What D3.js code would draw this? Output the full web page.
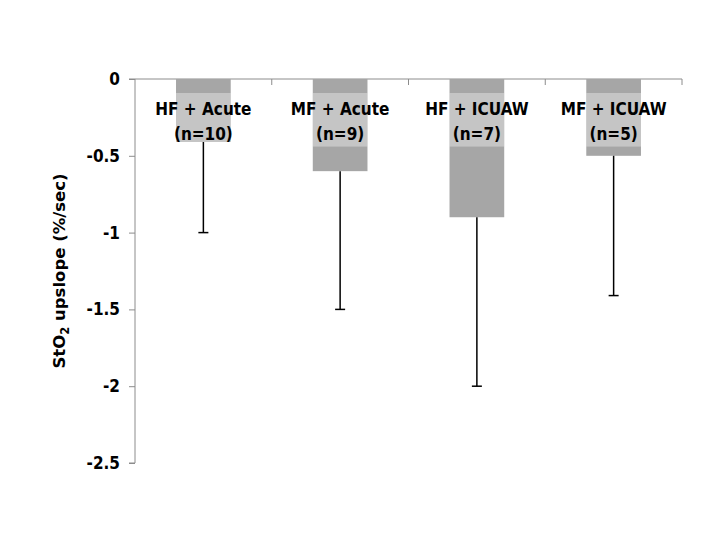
<!DOCTYPE html>
<html><head><meta charset="utf-8">
<script src="https://cdn.jsdelivr.net/npm/d3@7"></script>
<style>body{margin:0;background:#fff}</style>
</head><body>
<svg id="c" width="720" height="540"></svg>
<script>
const categories = ["HF + Acute", "MF + Acute", "HF + ICUAW", "MF + ICUAW"];
const nLabels = ["(n=10)", "(n=9)", "(n=7)", "(n=5)"];
const means = [-0.41, -0.6, -0.9, -0.5];
const errorEnds = [-1.0, -1.5, -2.0, -1.41];
const yTicks = [0, -0.5, -1, -1.5, -2, -2.5];

const svg = d3.select("#c");
const pL = 135, pR = 682, pT = 79, pB = 463;
const x = d3.scaleBand().domain(categories).range([pL, pR]).paddingInner(0.6).paddingOuter(0.3);
const xb = d3.scaleBand().domain(categories).range([pL, pR]);
const y = d3.scaleLinear().domain([0, -2.5]).range([pT, pB]);
const axisCol = "#8c8c8c";
const font = "'DejaVu Sans Condensed', 'DejaVu Sans', sans-serif";

// y axis
const ya = svg.append("g").attr("transform", `translate(${pL},0)`)
  .call(d3.axisLeft(y).tickValues(yTicks).tickSize(6).tickFormat(d => String(d)));
ya.select(".domain").attr("stroke", axisCol).attr("d", `M-6,${pT}H0V${pB}H-6`);
ya.selectAll(".tick line").attr("stroke", axisCol);
ya.selectAll(".tick text").attr("font-family", font).attr("font-size", 17).attr("font-weight", "bold")
  .attr("fill", "#000").attr("x", -15);

// x axis at top
const xa = svg.append("g").attr("transform", `translate(0,${pT})`);
xa.append("line").attr("x1", pL).attr("x2", pR).attr("y1", 0).attr("y2", 0).attr("stroke", axisCol);
xa.selectAll("line.t").data(categories).join("line").attr("class", "t")
  .attr("x1", d => xb(d) + xb.bandwidth()).attr("x2", d => xb(d) + xb.bandwidth())
  .attr("y1", 0).attr("y2", 6).attr("stroke", axisCol);

// bars
svg.selectAll("rect.bar").data(categories).join("rect").attr("class", "bar")
  .attr("x", d => x(d)).attr("width", x.bandwidth())
  .attr("y", y(0)).attr("height", (d, i) => y(means[i]) - y(0))
  .attr("fill", "#a6a6a6");

// error bars
const eg = svg.append("g").attr("stroke", "#000").attr("stroke-width", 1.5);
categories.forEach((c, i) => {
  const cx = x(c) + x.bandwidth() / 2;
  eg.append("line").attr("x1", cx).attr("x2", cx).attr("y1", y(means[i])).attr("y2", y(errorEnds[i]));
  eg.append("line").attr("x1", cx - 5).attr("x2", cx + 5).attr("y1", y(errorEnds[i])).attr("y2", y(errorEnds[i]));
});

// label boxes (semi-transparent white over bar)
categories.forEach((c, i) => {
  const cx = x(c) + x.bandwidth() / 2;
  const bw = x.bandwidth();
  const boxBottom = Math.min(y(-0.44), y(means[i]));
  svg.append("rect").attr("x", x(c)).attr("width", bw).attr("y", 93)
    .attr("height", boxBottom - 93).attr("fill", "#fff").attr("opacity", 0.35);
  const t = svg.append("text").attr("text-anchor", "middle").attr("font-family", font)
    .attr("font-weight", "bold").attr("font-size", 17).attr("fill", "#000");
  t.append("tspan").attr("x", cx).attr("y", 115).text(c);
  t.append("tspan").attr("x", cx).attr("y", 140).text(nLabels[i]);
});

// y title
const yt = svg.append("text").attr("transform", `translate(65,271) rotate(-90)`)
  .attr("text-anchor", "middle").attr("font-family", "'DejaVu Sans', sans-serif").attr("font-weight", "bold")
  .attr("font-size", 16.5).attr("fill", "#000");
yt.append("tspan").text("StO");
yt.append("tspan").attr("font-size", 11.5).attr("dy", 4).text("2");
yt.append("tspan").attr("dy", -4).text(" upslope (%/sec)");
</script>
</body></html>
